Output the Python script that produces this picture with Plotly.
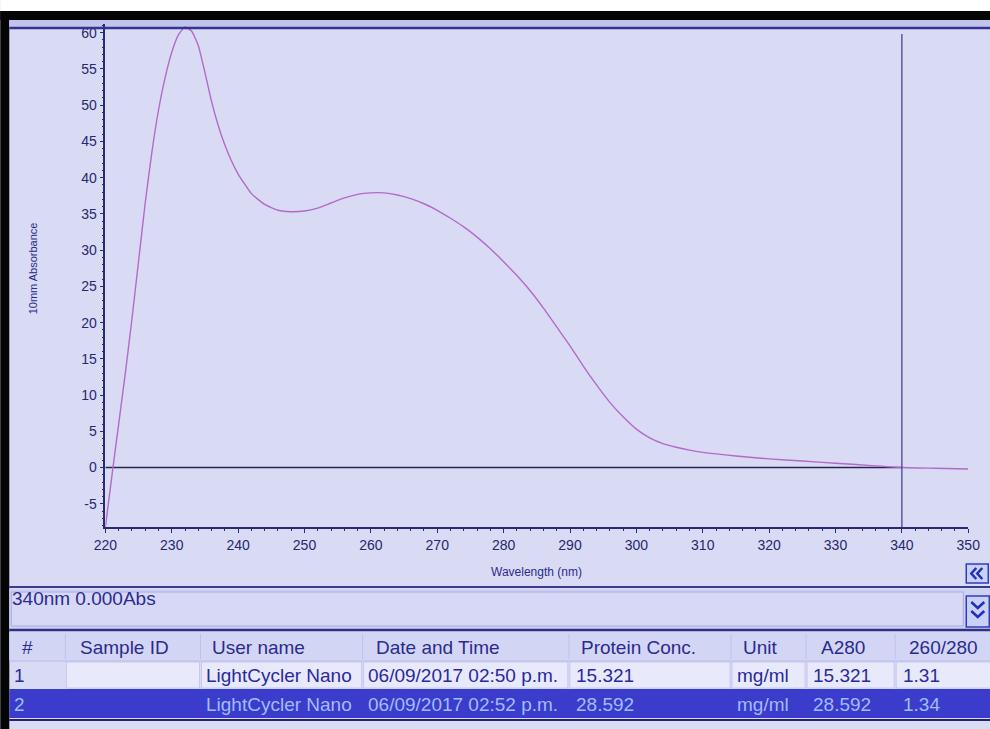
import plotly.graph_objects as go

# ---------------- data ----------------
wavelength_nm = [220, 221, 222, 223, 224, 225, 226, 227, 228, 229, 230, 231, 232, 233, 234,
                 235, 236, 237, 238, 239, 240, 242, 244, 246, 248, 250, 252, 254, 256, 258,
                 260, 262, 264, 266, 268, 270, 272, 274, 276, 278, 280, 282, 284, 286, 288,
                 290, 292, 294, 296, 298, 300, 302, 304, 306, 308, 310, 315, 320, 325, 330,
                 335, 340, 345, 350]
absorbance = [-8.2, -1.0, 6.0, 13.0, 20.5, 28.5, 36.5, 43.5, 49.3, 53.8, 57.3, 59.7, 60.8, 60.2, 58.2,
              54.5, 50.5, 47.2, 44.5, 42.3, 40.5, 37.8, 36.3, 35.5, 35.3, 35.4, 35.8, 36.5, 37.2, 37.7,
              37.9, 37.9, 37.6, 37.1, 36.4, 35.5, 34.4, 33.2, 31.8, 30.2, 28.4, 26.5, 24.4, 22.0, 19.4,
              16.8, 14.0, 11.4, 9.0, 7.0, 5.3, 4.1, 3.3, 2.8, 2.4, 2.1, 1.6, 1.2, 0.9, 0.6,
              0.3, 0.0, -0.1, -0.2]
baseline_nm = [220, 340]
baseline_abs = [0, 0]
cursor_nm = 340

x_ticks = [220, 230, 240, 250, 260, 270, 280, 290, 300, 310, 320, 330, 340, 350]
y_ticks = [-5, 0, 5, 10, 15, 20, 25, 30, 35, 40, 45, 50, 55, 60]
y_tick_labels = ["-5", "0", "5", "10", "15", "20", "25", "30", "35", "40", "45", "50", "55", "60"]

status_text = "340nm 0.000Abs"
x_title = "Wavelength (nm)"
y_title = "10mm Absorbance"

table_headers = ["#", "Sample ID", "User name", "Date and Time", "Protein Conc.", "Unit", "A280", "260/280"]
row_1 = ["1", "", "LightCycler Nano", "06/09/2017 02:50 p.m.", "15.321", "mg/ml", "15.321", "1.31"]
row_2 = ["2", "", "LightCycler Nano", "06/09/2017 02:52 p.m.", "28.592", "mg/ml", "28.592", "1.34"]

# ---------------- layout helpers ----------------
W, H = 990, 729          # design frame (reference pixels)
FIG_W = 1015             # figure width on the page
SX = FIG_W / W           # page px per picture px
OFF = 12                 # page offset of the figure
def px(x):
    return (x * SX - OFF) / FIG_W
def py(y):
    return 1 - y / H

BG = "#d9daf4"
TXT = "#2b2b8c"
FONT = "Liberation Sans"

fig = go.Figure()

fig.add_trace(go.Scatter(x=baseline_nm, y=baseline_abs, mode="lines",
                         line=dict(color="#262650", width=1.6), hoverinfo="skip"))
fig.add_trace(go.Scatter(x=wavelength_nm, y=absorbance, mode="lines",
                         line=dict(color="#b46ac8", width=1.4, shape="spline", smoothing=0.5),
                         hoverinfo="skip"))

shapes = []
annos = []

def rect(x0, y0, x1, y1, fill, line=None, lw=0):
    shapes.append(dict(type="rect", xref="paper", yref="paper", x0=px(x0), x1=px(x1),
                       y0=py(y1), y1=py(y0), fillcolor=fill,
                       line=dict(color=line or fill, width=lw), layer="below"))

def hline(x0, x1, y, color, w=1):
    shapes.append(dict(type="line", xref="paper", yref="paper", x0=px(x0), x1=px(x1),
                       y0=py(y), y1=py(y), line=dict(color=color, width=w)))

def vline(x, y0, y1, color, w=1):
    shapes.append(dict(type="line", xref="paper", yref="paper", x0=px(x), x1=px(x),
                       y0=py(y0), y1=py(y1), line=dict(color=color, width=w)))

def poly(points, color, w=2.5):
    d = "M " + " L ".join(f"{px(a):.5f},{py(b):.5f}" for a, b in points)
    shapes.append(dict(type="path", xref="paper", yref="paper", path=d,
                       line=dict(color=color, width=w)))

def text(x, y, s, size=19, color=TXT, xanchor="left", angle=0):
    annos.append(dict(x=px(x), y=py(y), xref="paper", yref="paper", text=s, showarrow=False,
                      xanchor=xanchor, yanchor="middle", textangle=angle,
                      font=dict(family=FONT, size=size, color=color)))

RIGHT = 1010
# frame of the photo
rect(0, 0, RIGHT, 11, "white")
rect(0, 11, RIGHT, 20, "#050505")
rect(0, 11, 9, 729, "#050505")
# top panel border
rect(9, 20, RIGHT, 27, "#c2c4ee")
hline(9, RIGHT, 28, "#35358e", 2.5)

# cursor line
shapes.append(dict(type="line", xref="x", yref="y domain", x0=cursor_nm, x1=cursor_nm,
                   y0=0, y1=0.98, line=dict(color="#3a3a90", width=1.2)))

# axis titles
text(536, 572, x_title, size=12, color=TXT, xanchor="center")
text(33, 268, y_title, size=11, color=TXT, xanchor="center", angle=-90)

# "<<" button
rect(965, 564, 987, 583, "#c9d0fa", "#2f3cc0", 1.5)
poly([(975, 568), (970, 573.5), (975, 579)], "#2030b8")
poly([(981, 568), (976, 573.5), (981, 579)], "#2030b8")

# status bar
hline(9, RIGHT, 587, "#3a3a8e", 2)
rect(9, 589, RIGHT, 629, "#cfd1f2")
rect(11, 592, 962, 626, "#d6d8f6", "#a8abe0", 1)
text(10, 598, status_text, size=19, color=TXT)
rect(965, 596, 988, 627, "#c9d0fa", "#2f3cc0", 1.5)
poly([(970, 602), (976.5, 608), (983, 602)], "#2030b8")
poly([(970, 611), (976.5, 617), (983, 611)], "#2030b8")
hline(9, RIGHT, 630, "#303088", 2.5)

# table
col_text_x = [20, 78, 210, 373, 578, 740, 818, 906]
row_text_x = [12, 70, 204, 365, 573, 734, 810, 900]
col_bounds = [9, 65, 200, 362, 568, 730, 805, 894, RIGHT]
rect(9, 632, RIGHT, 660, "#d3d5f5")
for i, h in enumerate(table_headers):
    text(col_text_x[i], 647, h, size=19, color=TXT)
for b in col_bounds[1:-1]:
    vline(b, 634, 659, "#c0c2ea", 1)
hline(9, RIGHT, 661, "#b7b9e6", 1)

# row 1
for i in range(1, len(col_bounds) - 1):
    rect(col_bounds[i] + 1, 662, col_bounds[i + 1] - 1, 688, "#e8e9fb", "#c6c8ee", 1)
for i, v in enumerate(row_1):
    if v:
        text(row_text_x[i], 675, v, size=19, color="#2a2aa0")

# row 2 (selected)
rect(9, 689, RIGHT, 718, "#3c3ccc")
for i, v in enumerate(row_2):
    if v:
        text(row_text_x[i], 704, v, size=19, color="#9fbcff")
hline(9, RIGHT, 720, "#242470", 2)

axis_font = dict(family=FONT, size=14, color="#28286e")
fig.update_layout(
    width=FIG_W, height=H, autosize=False, margin=dict(l=0, r=0, t=0, b=0),
    paper_bgcolor=BG, plot_bgcolor=BG, showlegend=False,
    shapes=shapes, annotations=annos,
    xaxis=dict(domain=[px(105), px(967)], range=[220, 350], tickvals=x_ticks,
               showgrid=False, zeroline=False, showline=True, linecolor="#2a2a70", linewidth=1.6,
               ticks="outside", ticklen=4, tickcolor="#2a2a70", tickfont=axis_font,
               minor=dict(dtick=2, ticks="outside", ticklen=2, tickcolor="#2a2a70"),
               fixedrange=True),
    yaxis=dict(domain=[py(527), py(24)], range=[-8.2, 61.2], tickvals=y_ticks,
               ticktext=y_tick_labels,
               showgrid=False, zeroline=False, showline=True, linecolor="#2a2a70", linewidth=1.6,
               ticks="outside", ticklen=4, tickcolor="#2a2a70", tickfont=axis_font,
               minor=dict(dtick=1, ticks="outside", ticklen=2, tickcolor="#2a2a70"),
               fixedrange=True),
)

fig.write_html("out.html", config={"displayModeBar": False, "responsive": False},
               post_script="document.body.style.margin='0';document.body.style.background='#050505';"
                           "document.documentElement.style.overflow='hidden';")
